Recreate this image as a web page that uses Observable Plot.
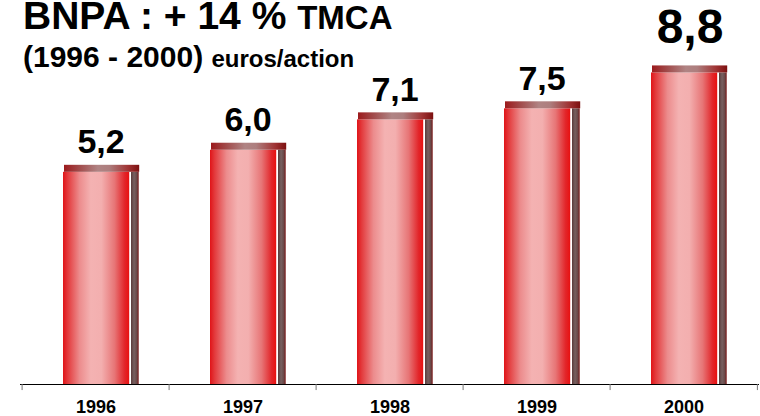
<!DOCTYPE html>
<html>
<head>
<meta charset="utf-8">
<script src="https://cdn.jsdelivr.net/npm/d3@7"></script>
<script src="https://cdn.jsdelivr.net/npm/@observablehq/plot@0.6"></script>
<style>
  html, body { margin: 0; padding: 0; background: #fff; }
  svg { display: block; }
</style>
</head>
<body>
<div id="chart"></div>
<script>
const years = ["1996", "1997", "1998", "1999", "2000"];
const values = [5.2, 6.0, 7.1, 7.5, 8.8];
const valueLabels = ["5,2", "6,0", "7,1", "7,5", "8,8"];
const highlightYear = "2000";
const titleMain = "BNPA : + 14 % ";
const titleTail = "TMCA";
const subtitleMain = "(1996 - 2000) ";
const subtitleTail = "euros/action";

const data = years.map((year, i) => ({year, value: values[i], label: valueLabels[i]}));

const W = 760, H = 416;
const mL = 20, mR = 1, mT = 0, mB = 32;
const yBase = -2.74, yTop = 11.17;
const bw = (W - mL - mR) / years.length;
const capH = 7;

const BODY = "#e31b1c", STRIP = "#6a4646", CAP = "#a52020";

const svg = Plot.plot({
  width: W,
  height: H,
  marginLeft: mL,
  marginRight: mR,
  marginTop: mT,
  marginBottom: mB,
  style: {fontFamily: "'Liberation Sans', Arial, sans-serif", background: "#fff", color: "#000"},
  x: {type: "band", domain: years, padding: 0, label: null},
  y: {domain: [yBase, yTop], axis: null},
  marks: [
    // bar body
    Plot.barY(data, {x: "year", y1: yBase, y2: "value", insetTop: capH, insetLeft: 41, insetRight: bw - 41 - 67, fill: BODY}),
    // dark side strip
    Plot.barY(data, {x: "year", y1: yBase, y2: "value", insetTop: capH, insetLeft: 109, insetRight: bw - 117.5, fill: STRIP}),
    // top cap
    Plot.barY(data, {x: "year", y1: "value", y2: "value", insetBottom: -capH, insetLeft: 42, insetRight: bw - 118, fill: CAP}),
    // value labels
    Plot.text(data, {
      filter: d => d.year !== highlightYear,
      x: "year", y: "value", text: "label", lineAnchor: "bottom", dx: 5, dy: -12,
      fontSize: 34, fontWeight: "bold", fill: "#000"
    }),
    Plot.text(data, {
      filter: d => d.year === highlightYear,
      x: "year", y: "value", text: "label", lineAnchor: "bottom", dx: 6, dy: -23,
      fontSize: 48, fontWeight: "bold", fill: "#000"
    }),
    // baseline
    Plot.ruleY([yBase], {stroke: "#000", strokeWidth: 1}),
    // band separators
    Plot.ruleX(years, {x: d => d, dx: -bw / 2, y1: yBase, y2: yBase - 0.22, stroke: "#777"}),
    Plot.ruleX([years[years.length - 1]], {x: d => d, dx: bw / 2 - 0.5, y1: yBase, y2: yBase - 0.22, stroke: "#777"}),
    Plot.axisX({tickSize: 0, tickPadding: 16, fontSize: 18, fontWeight: "bold", label: null, fill: "#000"})
  ]
});

const root = d3.select(svg);
const defs = root.insert("defs", ":first-child");
function grad(id, stops) {
  const g = defs.append("linearGradient").attr("id", id).attr("x1", 0).attr("x2", 1).attr("y1", 0).attr("y2", 0);
  stops.forEach(([o, c]) => g.append("stop").attr("offset", o).attr("stop-color", c));
}
grad("bodyGrad", [[0, "#e01418"], [0.07, "#e33a3c"], [0.25, "#ec8c8d"], [0.42, "#f4b2b2"], [0.58, "#f3afaf"], [0.78, "#e77576"], [0.93, "#e2262a"], [1, "#e81010"]]);
grad("stripGrad", [[0, "#5a3a3a"], [0.4, "#776060"], [0.75, "#6a4848"], [1, "#7a1616"]]);
grad("capGrad", [[0, "#9c1a1c"], [0.2, "#a14a4a"], [0.45, "#b08484"], [0.6, "#ad7e7e"], [0.85, "#a03434"], [1, "#7c1010"]]);

root.selectAll(`g[fill="${BODY}"]`).attr("fill", "url(#bodyGrad)");
root.selectAll(`g[fill="${STRIP}"]`).attr("fill", "url(#stripGrad)");
root.selectAll(`g[fill="${CAP}"]`).attr("fill", "url(#capGrad)");

// title and subtitle
const t1 = root.append("text").attr("x", 23).attr("y", 29).attr("text-anchor", "start").attr("font-weight", "bold").attr("fill", "#000");
t1.append("tspan").attr("font-size", 39).text(titleMain);
t1.append("tspan").attr("font-size", 33).text(titleTail);
const t2 = root.append("text").attr("x", 23).attr("y", 67).attr("text-anchor", "start").attr("font-weight", "bold").attr("fill", "#000");
t2.append("tspan").attr("font-size", 30).text(subtitleMain);
t2.append("tspan").attr("font-size", 24).text(subtitleTail);

document.getElementById("chart").appendChild(svg);
</script>
</body>
</html>
